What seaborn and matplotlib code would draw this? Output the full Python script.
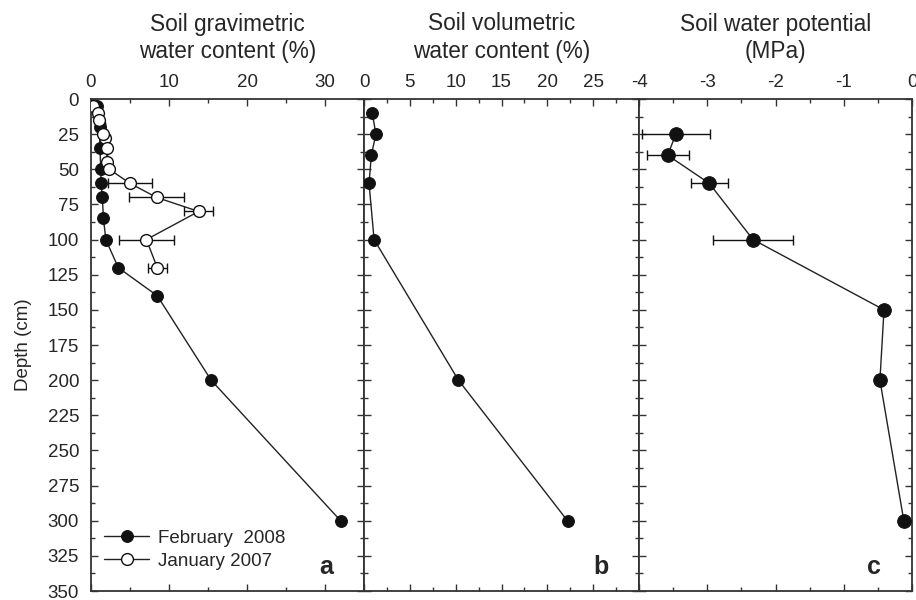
import numpy as np
import pandas as pd
import matplotlib
matplotlib.use("Agg")
import matplotlib.pyplot as plt
from matplotlib.ticker import MultipleLocator, FuncFormatter
import seaborn as sns

# ---- data ----
grav_feb_depth = [5, 20, 30, 40, 50, 60, 70, 80, 90, 100, 120, 140, 200, 300]
grav_feb_value = [0.8, 1.1, 1.15, 1.15, 1.25, 1.3, 1.45, 1.6, 1.6, 1.9, 3.5, 8.5, 15.4, 32.0]

grav_jan_depth = [5, 10, 15, 20, 25, 30, 35, 40, 45, 50, 60, 70, 80, 100, 120]
grav_jan_value = [0.3, 0.9, 1.0, 1.8, 1.6, 2.0, 1.8, 2.0, 2.1, 2.35, 5.0, 8.4, 13.8, 7.1, 8.5]
grav_jan_err = [0, 0, 0, 0, 0, 0, 0, 0, 0, 0, 2.8, 3.5, 1.9, 3.5, 1.25]

vol_depth = [10, 25, 40, 60, 100, 200, 300]
vol_value = [0.9, 1.3, 0.8, 0.55, 1.1, 10.3, 22.2]

pot_depth = [25, 40, 60, 100, 150, 200, 300]
pot_value = [-3.46, -3.58, -2.97, -2.33, -0.41, -0.47, -0.12]
pot_err = [0.5, 0.31, 0.27, 0.58, 0, 0, 0]

titles = ["Soil gravimetric\nwater content (%)",
          "Soil volumetric\nwater content (%)",
          "Soil water potential\n(MPa)"]
panel_letters = ["a", "b", "c"]
legend_labels = ["February  2008", "January 2007"]

# ---- style ----
sns.set_theme(style="ticks")
plt.rcParams["font.family"] = ["Liberation Sans", "DejaVu Sans"]
plt.rcParams["axes.unicode_minus"] = False

fig = plt.figure(figsize=(9.16, 6.0), dpi=100)
W, H = 916, 600
top_px, bot_px = 99, 591
edges = [91, 364, 639, 912]
axes = []
for i in range(3):
    ax = fig.add_axes([edges[i] / W, 1 - bot_px / H,
                       (edges[i + 1] - edges[i]) / W, (bot_px - top_px) / H])
    axes.append(ax)

dark = "#111111"
line_kw = dict(color="#222222", linewidth=1.0)

# panel a
ax = axes[0]
df_feb = pd.DataFrame({"depth": grav_feb_depth, "value": grav_feb_value})
df_jan = pd.DataFrame({"depth": grav_jan_depth, "value": grav_jan_value})
sns.lineplot(data=df_feb, x="value", y="depth", sort=False, ax=ax, marker="o",
             markersize=8.5, markerfacecolor=dark, markeredgecolor=dark,
             label=legend_labels[0], zorder=3, **line_kw)
ax.errorbar(grav_jan_value, grav_jan_depth, xerr=grav_jan_err, fmt="none",
            ecolor=dark, elinewidth=1.0, capsize=3.5, capthick=1.0, zorder=4)
sns.lineplot(data=df_jan, x="value", y="depth", sort=False, ax=ax, marker="o",
             markersize=8.5, markerfacecolor="white", markeredgecolor=dark,
             markeredgewidth=1.0, label=legend_labels[1], zorder=5, **line_kw)
ax.set_xlim(0, 35)
ax.xaxis.set_major_locator(MultipleLocator(10))
ax.xaxis.set_minor_locator(MultipleLocator(5))
leg = ax.legend(loc="lower left", bbox_to_anchor=(0.0, 0.017), frameon=False,
                fontsize=13.5, handlelength=2.4, handletextpad=0.5,
                labelspacing=0.3, borderaxespad=0.3)

# panel b
ax = axes[1]
df_vol = pd.DataFrame({"depth": vol_depth, "value": vol_value})
sns.lineplot(data=df_vol, x="value", y="depth", sort=False, ax=ax, marker="o",
             markersize=8.5, markerfacecolor=dark, markeredgecolor=dark, zorder=3,
             **line_kw)
ax.set_xlim(0, 30)
ax.xaxis.set_major_locator(MultipleLocator(5))
ax.xaxis.set_minor_locator(MultipleLocator(2.5))
ax.xaxis.set_major_formatter(FuncFormatter(lambda v, p: "" if v >= 29 else f"{v:g}"))

# panel c
ax = axes[2]
df_pot = pd.DataFrame({"depth": pot_depth, "value": pot_value})
ax.errorbar(pot_value, pot_depth, xerr=pot_err, fmt="none", ecolor=dark,
            elinewidth=1.0, capsize=3.5, capthick=1.0, zorder=2)
sns.lineplot(data=df_pot, x="value", y="depth", sort=False, ax=ax, marker="o",
             markersize=9.8, markerfacecolor=dark, markeredgecolor=dark, zorder=3,
             **line_kw)
ax.set_xlim(-4, 0)
ax.xaxis.set_major_locator(MultipleLocator(1))
ax.xaxis.set_minor_locator(MultipleLocator(0.5))
ax.xaxis.set_major_formatter(FuncFormatter(lambda v, p: f"{v:g}"))

for i, ax in enumerate(axes):
    ax.set_ylim(350, 0)
    ax.yaxis.set_major_locator(MultipleLocator(25))
    ax.yaxis.set_minor_locator(MultipleLocator(12.5))
    ax.xaxis.tick_top()
    ax.tick_params(which="both", direction="in", top=True, bottom=True,
                   left=True, right=True, labeltop=True, labelbottom=False,
                   labelleft=(i == 0), labelright=False, color="#333333",
                   width=1.0)
    ax.tick_params(which="major", length=5, labelsize=13.5)
    ax.tick_params(axis="y", which="major", pad=8.5)
    ax.tick_params(axis="x", which="major", pad=5.5)
    ax.tick_params(which="minor", length=3)
    ax.set_xlabel("")
    ax.set_ylabel("")
    for s in ax.spines.values():
        s.set_color("#333333")
        s.set_linewidth(1.3)
    cx = (edges[i] + edges[i + 1]) / 2 / W
    fig.text(cx, 1 - 58 / H, titles[i], ha="center", va="baseline",
             fontsize=16.3, linespacing=1.25)
    ax.text(0.86, 0.048, panel_letters[i], transform=ax.transAxes,
            ha="center", va="center", fontsize=18, fontweight="bold")

axes[0].set_ylabel("Depth (cm)", fontsize=13.5, labelpad=11)

fig.savefig("out.png", dpi=100)
